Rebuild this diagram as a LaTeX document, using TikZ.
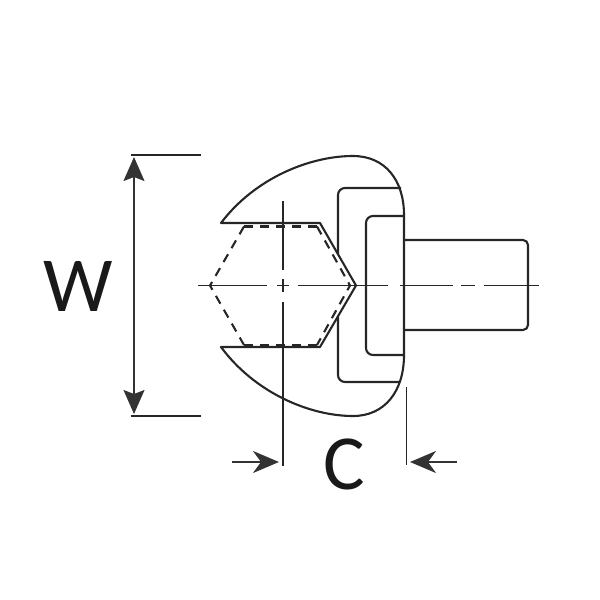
\documentclass[tikz,border=0pt]{standalone}
\usepackage{fontspec}
\setmainfont{Carlito}
\usetikzlibrary{arrows.meta}
\tikzset{
  outline/.style={line width=2.1pt,draw=black!85,line join=round},
  hidden/.style={line width=2.1pt,draw=black!85,dash pattern=on 9pt off 7pt},
  thin line/.style={line width=1.8pt,draw=black!85},
  dim/.style={line width=1.7pt,draw=black!80,-{Stealth[length=26pt,width=22pt,inset=8pt]}},
  label/.style={font=\fontsize{78}{78}\selectfont,text=black!90,inner sep=0pt,anchor=center}
}
\begin{document}
\begin{tikzpicture}[x=1pt,y=-1pt]
\useasboundingbox (0,0) rectangle (600,600);
% head
\draw[outline] (221,223) .. controls (255,178) and (310,156) .. (353,156)
  .. controls (385,156) and (404,180) .. (404,215) -- (404,355)
  .. controls (404,391) and (385,416) .. (353,416)
  .. controls (310,416) and (255,393) .. (221,347)
  -- (320,347) -- (356,285.5) -- (320,223) -- cycle;
% inner steps
\draw[outline,rounded corners=7pt] (401,188) -- (338,188) -- (338,254);
\draw[outline,rounded corners=7pt] (338,317) -- (338,382) -- (400,382);
\draw[outline,rounded corners=7pt] (404,216) -- (366,216) -- (366,355) -- (404,355);
% shank
\draw[outline,rounded corners=5pt] (404,240) -- (528,240) -- (528,330) -- (404,330);
% hidden hexagon
\draw[hidden] (244,226.5) -- (210,285.5) -- (244,345);
\draw[hidden] (244,226.5) -- (317,226.5);
\draw[hidden] (244,345) -- (317,345);
\draw[hidden] (317,226.5) -- (350,285.5) -- (317,345);
% centre lines
\foreach \a/\b in {198/267,277/289,298/388,400/453,461/475,484/539}
  \draw[thin line] (\a,285.5) -- (\b,285.5);
\foreach \a/\b in {201/270,279/292,302/466}
  \draw[thin line] (283,\a) -- (283,\b);
% extension lines
\draw[thin line] (131,155) -- (201,155);
\draw[thin line] (131,416) -- (201,416);
\draw[thin line] (406.5,387) -- (406.5,465);
% dimensions
\coordinate (wt) at (134,157);
\coordinate (wb) at (134,414);
\coordinate (cl) at (232,462);
\coordinate (cli) at (279,462);
\coordinate (cr) at (457,462);
\coordinate (cri) at (410,462);
\draw[dim,{Stealth[length=24pt,width=21pt,inset=4pt]}-{Stealth[length=24pt,width=21pt,inset=4pt]}] (wt) -- (wb);
\draw[dim] (cl) -- (cli);
\draw[dim] (cr) -- (cri);
\node[label] (w) at (78,286) {W};
\node[label] (c) at (344,464) {C};
\end{tikzpicture}
\end{document}
